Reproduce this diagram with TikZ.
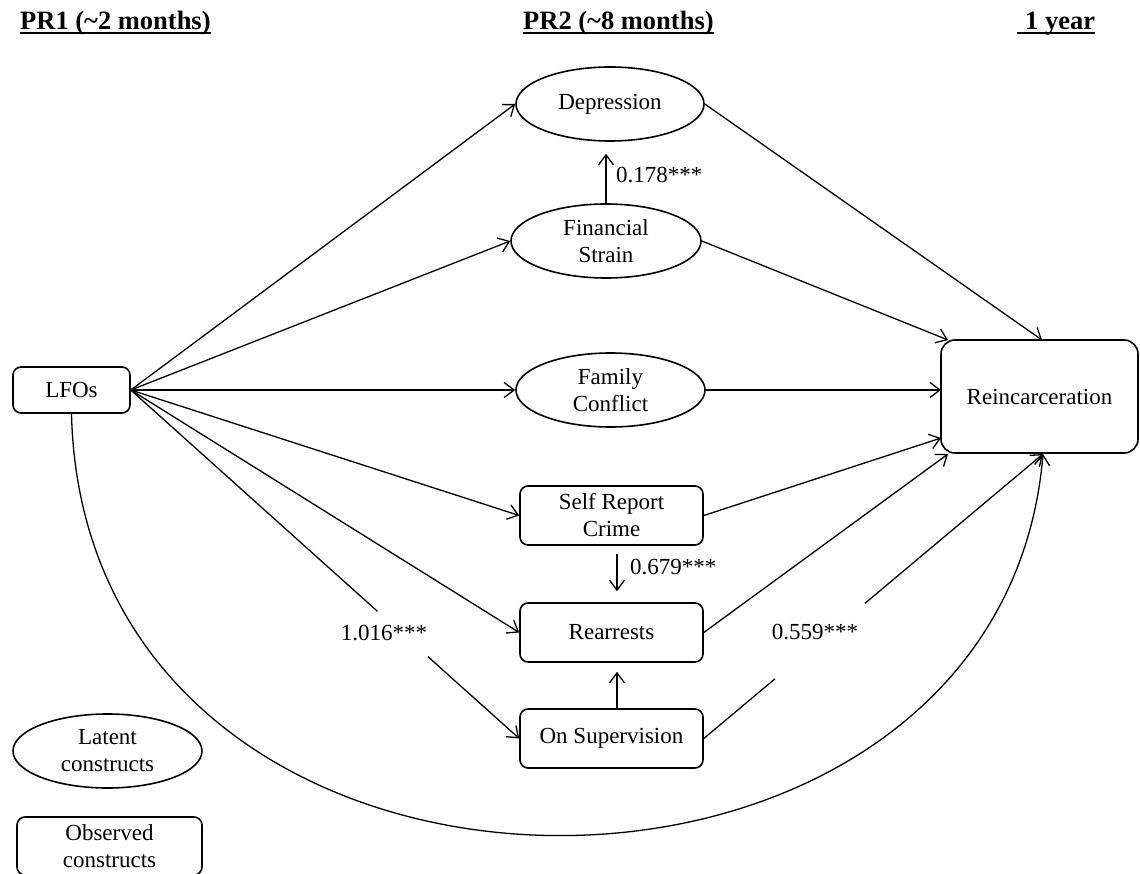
\documentclass[tikz,border=0pt]{standalone}
\usepackage{fontspec}
\setmainfont{Liberation Serif}
\usetikzlibrary{shapes.geometric,arrows.meta,calc}
\begin{document}
\begin{tikzpicture}[x=1pt,y=-1pt, font=\fontsize{23}{27}\selectfont,
  lat/.style={ellipse, draw, line width=1.6pt, inner sep=0pt, align=center, minimum width=189pt, minimum height=74pt},
  obs/.style={rectangle, rounded corners=8pt, draw, line width=1.6pt, inner sep=0pt, align=center, minimum width=183pt, minimum height=59pt},
  arr/.style={line width=1.3pt, -{Straight Barb[length=10pt,width=15pt,line width=1.3pt]}},
  ln/.style={line width=1.3pt},
  lbl/.style={inner sep=2pt},
  hdr/.style={font=\fontsize{26.5}{30}\selectfont\bfseries, anchor=base west, inner sep=0pt},
  uline/.style={line width=2pt}]
\useasboundingbox (0,0) rectangle (1140,874);

% headers
\node[hdr] (h1) at (20,30) {PR1 (\textasciitilde2 months)};
\node[hdr] (h2) at (523,30) {PR2 (\textasciitilde8 months)};
\node[hdr] (h3) at (1025,30) {1 year};
\draw[uline] ([yshift=-3pt]h1.base west) -- ([yshift=-3pt]h1.base east);
\draw[uline] ([yshift=-3pt]h2.base west) -- ([yshift=-3pt]h2.base east);
\draw[uline] ([xshift=-8pt,yshift=-3pt]h3.base west) -- ([yshift=-3pt]h3.base east);

% nodes
\node[lat, minimum width=188pt] (dep) at (610,104) {Depression};
\node[lat, minimum width=190pt] (fs) at (606,241) {Financial\\Strain};
\node[lat] (fc) at (610.5,390) {Family\\Conflict};
\node[obs] (src) at (611.5,515.5) {Self Report\\Crime};
\node[obs] (rea) at (611.5,632.5) {Rearrests};
\node[obs] (sup) at (611.5,738.5) {On Supervision};
\node[obs, minimum width=117pt, minimum height=46pt] (lfo) at (71.5,390) {LFOs};
\node[obs, rounded corners=14pt, minimum width=197pt, minimum height=113pt] (rei) at (1039.5,396.5) {Reincarceration};
\node[lat] (latent) at (107.5,751) {Latent\\constructs};
\node[obs, minimum width=185pt, minimum height=58pt] (observed) at (109.5,846) {Observed\\constructs};

% target points on Reincarceration
\coordinate (rDEP) at (1042,340);
\coordinate (rFS) at (948,340);
\coordinate (rFC) at (941,390);
\coordinate (rSRC) at (941,438);
\coordinate (rREA) at (948,454);
\coordinate (rSUP) at (1043,454);

% LFOs out
\draw[arr] (lfo.east) -- (dep.west);
\draw[arr] (lfo.east) -- (fs.west);
\draw[arr] (lfo.east) -- (fc.west);
\draw[arr] (lfo.east) -- (src.west);
\draw[arr] (lfo.east) -- (rea.west);
\draw[ln] (lfo.east) -- ($(lfo.east)!0.635!(sup.west)$);
\draw[arr] ($(lfo.east)!0.765!(sup.west)$) -- (sup.west);
\draw[arr] (lfo.south) .. controls (85,969) and (1000,969) .. (rSUP);

% into Reincarceration
\draw[arr] (dep.east) -- (rDEP);
\draw[arr] (fs.east) -- (rFS);
\draw[arr] (fc.east) -- (rFC);
\draw[arr] (src.east) -- (rSRC);
\draw[arr] (rea.east) -- (rREA);
\draw[ln] (sup.east) -- ($(sup.east)!0.21!(rSUP)$);
\draw[arr] ($(sup.east)!0.475!(rSUP)$) -- (rSUP);

% vertical arrows
\draw[arr, shorten >=12pt] (fs.north) -- (fs.north |- dep.south);
\draw[arr, shorten <=8pt, shorten >=11pt] ([xshift=5.5pt]src.south) -- ([xshift=5.5pt]rea.north);
\draw[arr, shorten >=9pt] ([xshift=5.5pt]sup.north) -- ([xshift=5.5pt]rea.south);

% labels
\node[lbl, anchor=west] (l1) at (614,175) {0.178***};
\node[lbl, anchor=west] (l2) at (628,567) {0.679***};
\node[lbl] (l3) at (384,633) {1.016***};
\node[lbl] (l4) at (815,632) {0.559***};
\end{tikzpicture}
\end{document}
